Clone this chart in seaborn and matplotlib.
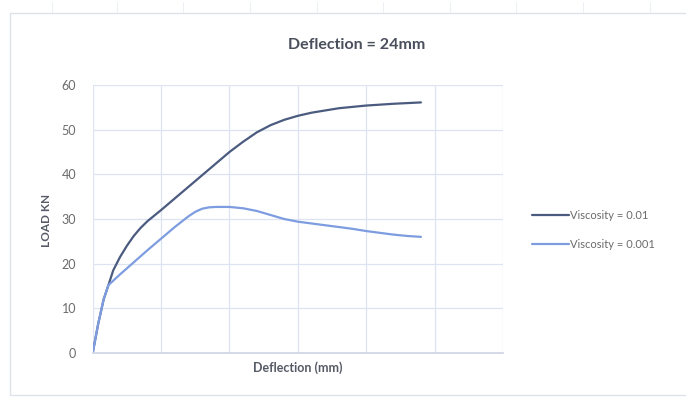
import matplotlib
matplotlib.use("Agg")
import matplotlib.pyplot as plt
import matplotlib.patches as mpatches
import matplotlib.lines as mlines
import numpy as np
import pandas as pd
import seaborn as sns

# Load-deflection readings (deflection in mm, load in kN)
defl_v001 = [0, 0.4, 0.8, 1.15, 1.5, 2, 2.5, 3, 3.5, 4, 5, 6, 7, 8, 9, 10, 11, 12, 13, 14,
             15, 16, 17, 18, 19, 20, 21, 22, 23, 24]
load_v001 = [0, 6.5, 12.0, 15.2, 18.5, 21.5, 24.0, 26.2, 28.0, 29.5, 32.0, 34.6, 37.2, 39.8,
             42.4, 45.0, 47.3, 49.4, 51.0, 52.2, 53.1, 53.8, 54.3, 54.8, 55.1, 55.4, 55.6,
             55.8, 55.95, 56.1]

defl_v0001 = [0, 0.4, 0.8, 1.15, 2, 3, 4, 5, 6, 7, 7.5, 8, 8.5, 9, 10, 11, 12, 13, 14, 15,
              16, 17, 18, 19, 20, 21, 22, 23, 24]
load_v0001 = [0, 6.5, 12.0, 15.2, 17.6, 20.3, 23.0, 25.6, 28.2, 30.6, 31.6, 32.3, 32.6, 32.7,
              32.7, 32.4, 31.8, 30.9, 30.0, 29.4, 29.0, 28.6, 28.2, 27.8, 27.3, 26.9, 26.5,
              26.2, 26.0]

series_names = ["Viscosity = 0.01", "Viscosity = 0.001"]
series_colors = ["#4b5b80", "#7d9de0"]
y_ticks = [0, 10, 20, 30, 40, 50, 60]

df = pd.concat([
    pd.DataFrame({"Deflection": defl_v001, "Load": load_v001, "Series": series_names[0]}),
    pd.DataFrame({"Deflection": defl_v0001, "Load": load_v0001, "Series": series_names[1]}),
], ignore_index=True)

sns.set_theme(style="white")
plt.rcParams["font.family"] = ["Lato", "DejaVu Sans"]

fig = plt.figure(figsize=(6.86, 4.01), dpi=100)
fig.patch.set_facecolor("white")

# worksheet cell marks above the chart box and the chart frame
for xc in [52, 117, 183, 250, 317, 383, 450, 516, 583, 650]:
    fig.add_artist(mlines.Line2D([xc / 686, xc / 686], [1 - 2 / 401, 1 - 12 / 401],
                                 color="#eceff3", lw=0.8, transform=fig.transFigure))
fig.add_artist(mpatches.Rectangle((10 / 686, 6 / 401), 690 / 686, 382 / 401,
                                  fill=False, edgecolor="#dfe2e8", lw=1.0,
                                  transform=fig.transFigure))

ax = fig.add_axes([92.7 / 686, 48 / 401, (503 - 92.7) / 686, (353 - 85) / 401])
sns.lineplot(data=df, x="Deflection", y="Load", hue="Series", palette=series_colors,
             hue_order=series_names, sort=False, estimator=None, lw=1.6, ax=ax, legend=False)
for ln in ax.get_lines():
    ln.set_solid_joinstyle("round")
    ln.set_solid_capstyle("round")

ax.set_xlim(0, 30)
ax.set_ylim(0, 60)
ax.set_xticks(np.arange(0, 31, 5))
ax.set_xticklabels([])
ax.set_yticks(y_ticks)
ax.set_yticklabels([str(v) for v in y_ticks], color="#6b6b6b", fontsize=9)
ax.tick_params(axis="both", length=0, pad=12)
ax.grid(True, color="#dde3f0", lw=0.9)
ax.set_axisbelow(True)
for name, sp in ax.spines.items():
    sp.set_visible(name == "bottom")
ax.spines["bottom"].set_color("#d0d6e4")

ax.set_xlabel("")
ax.set_ylabel("")
fig.text(298 / 686, 1 - 368 / 401, "Deflection (mm)", ha="center", va="center",
         fontsize=9, fontweight="bold", color="#555a66")
fig.text(47 / 686, 1 - 220 / 401, "LOAD KN", ha="center", va="center", rotation=90,
         fontsize=8.5, fontweight="bold", color="#555a66")
fig.text(357 / 686, 1 - 45 / 401, "Deflection = 24mm", ha="center", va="center",
         fontsize=11.5, fontweight="bold", color="#4a4f5c")

handles = [mlines.Line2D([], [], color=c, lw=1.6) for c in series_colors]
fig.legend(handles, series_names, loc="center left", bbox_to_anchor=(522 / 686, 1 - 230 / 401),
           frameon=False, fontsize=8, handlelength=3.3, handletextpad=0.1,
           labelspacing=1.6, labelcolor="#6b6b6b")

fig.savefig("out.png", dpi=100, facecolor="white")
